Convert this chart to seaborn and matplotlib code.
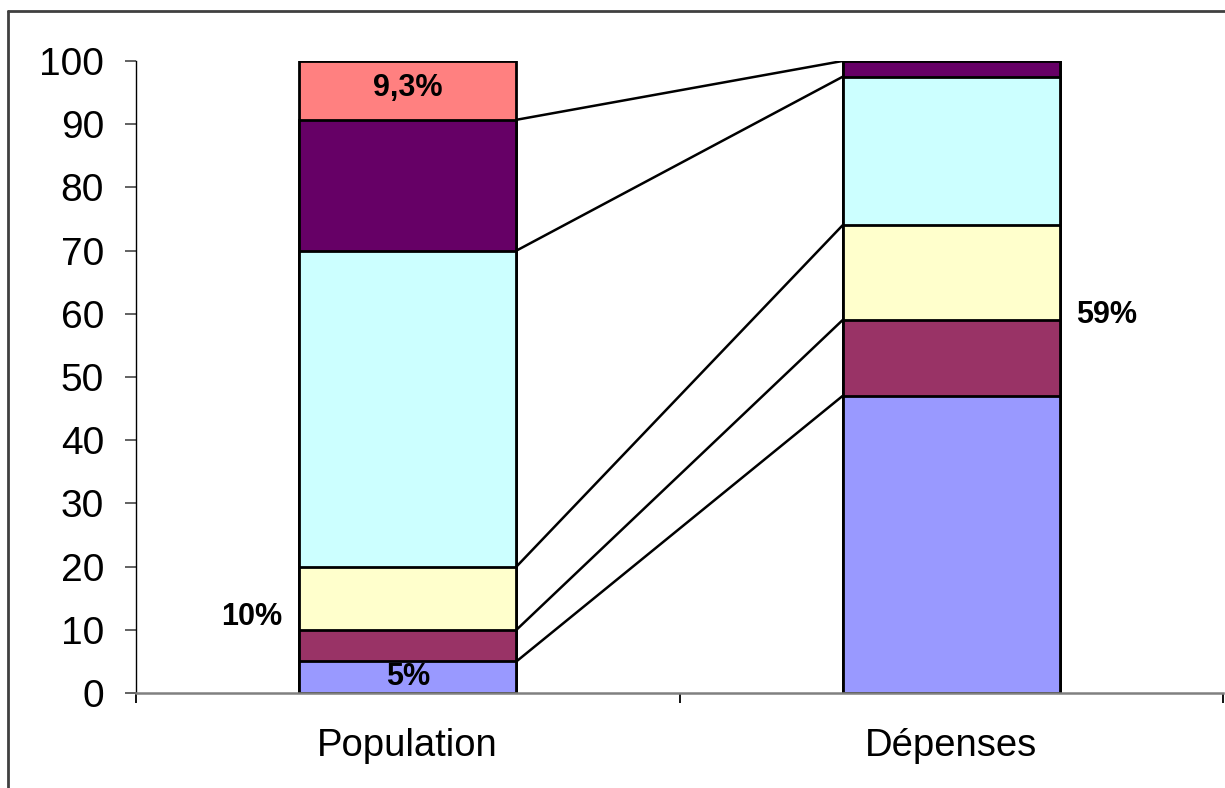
import matplotlib
matplotlib.use("Agg")
import matplotlib.pyplot as plt
from matplotlib.lines import Line2D
from matplotlib.ticker import FixedLocator
import numpy as np
import pandas as pd
import seaborn as sns

# Stacked shares (%) per category, bottom segment first
categories = ["Population", "Dépenses"]
population = [5, 5, 10, 50, 20.7, 9.3]
depenses = [47, 12, 15, 23.5, 2.5, 0]
segment_colors = ["#9999FF", "#993366", "#FFFFCC", "#CCFFFF", "#660066", "#FF8080"]
y_ticks = [0, 10, 20, 30, 40, 50, 60, 70, 80, 90, 100]

sns.set_theme(style="white")
plt.rcParams["font.family"] = ["Liberation Sans", "DejaVu Sans"]

fig = plt.figure(figsize=(12.25, 7.88), dpi=100)
ax = fig.add_axes([136 / 1225, 1 - 693 / 788, (1223 - 136) / 1225, (693 - 61) / 788])

cum_pop = np.cumsum(population)
cum_dep = np.cumsum(depenses)
bar_width = 0.4

# Draw cumulative totals from the top segment down so each layer covers the next
for i in range(len(population) - 1, -1, -1):
    df = pd.DataFrame({"cat": categories, "total": [cum_pop[i], cum_dep[i]]})
    sns.barplot(data=df, x="cat", y="total", order=categories, color=segment_colors[i],
                saturation=1, width=bar_width, edgecolor="black", linewidth=2.0,
                ax=ax, zorder=2)

# Series lines joining segment tops between the two bars
for i in range(len(population) - 1):
    if cum_dep[i] == cum_pop[i] == 100:
        continue
    ax.plot([0 + bar_width / 2, 1 - bar_width / 2], [cum_pop[i], cum_dep[i]],
            color="black", linewidth=1.8, zorder=3)

def pct(v):
    s = f"{v:g}".replace(".", ",")
    return s + "%"

lab_kw = dict(fontsize=22, fontweight="bold", color="black", zorder=4)
ax.text(0, cum_pop[4] + population[5] / 2 + 0.3, pct(population[5]), ha="center", va="center", **lab_kw)
ax.text(0, population[0] / 2, pct(population[0]), ha="center", va="center", **lab_kw)
ax.text(-0.23, 12.0, pct(cum_pop[1]), ha="right", va="center", **lab_kw)
ax.text(1.23, 59.8, pct(cum_dep[1]), ha="left", va="center", **lab_kw)

ax.set_xlim(-0.5, 1.5)
ax.set_ylim(0, 100)
ax.set_xlabel("")
ax.set_ylabel("")

ax.yaxis.set_major_locator(FixedLocator(y_ticks))
ax.set_yticklabels([str(t) for t in y_ticks])
ax.set_xticks([0, 1])
ax.set_xticklabels(categories)
ax.xaxis.set_minor_locator(FixedLocator([-0.5, 0.5, 1.5]))

ax.tick_params(axis="y", which="major", left=True, length=8, width=1.3, color="#555555",
               direction="out", labelsize=28, pad=15, labelcolor="black")
ax.tick_params(axis="x", which="major", bottom=True, length=0, labelsize=27.5, pad=25,
               labelcolor="black")
ax.tick_params(axis="x", which="minor", bottom=True, length=7.5, width=1.3, color="black",
               direction="out")

for side in ["top", "right"]:
    ax.spines[side].set_visible(False)
ax.spines["left"].set_color("black")
ax.spines["left"].set_linewidth(1.0)
ax.spines["bottom"].set_color("#808080")
ax.spines["bottom"].set_linewidth(1.8)
ax.set_facecolor("white")

# Outer chart frame (top and left edges)
fig.add_artist(Line2D([8 / 1225, 1], [1 - 11 / 788, 1 - 11 / 788], transform=fig.transFigure,
                      color="#404040", linewidth=2.0))
fig.add_artist(Line2D([8 / 1225, 8 / 1225], [0, 1 - 11 / 788], transform=fig.transFigure,
                      color="#404040", linewidth=2.0))

fig.savefig("out.png", dpi=100, facecolor="white")
